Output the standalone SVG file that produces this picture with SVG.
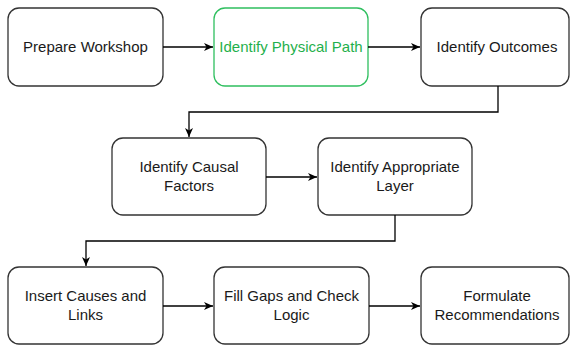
<svg xmlns="http://www.w3.org/2000/svg" width="570" height="347" viewBox="0 0 570 347">
<style>
.box{fill:#ffffff;stroke:#333333;stroke-width:1.3}
.green{fill:#ffffff;stroke:#2fbf5f;stroke-width:1.3}
.t{font-family:"Liberation Sans",Arial,sans-serif;font-size:15px;fill:#1a1a1a;text-anchor:middle}
.tg{font-family:"Liberation Sans",Arial,sans-serif;font-size:15px;fill:#1fb04c;text-anchor:middle}
.c{fill:none;stroke:#000000;stroke-width:1.3}
</style>
<defs>
<marker id="ah" markerWidth="10" markerHeight="10" refX="9" refY="5" orient="auto" markerUnits="userSpaceOnUse">
<path d="M0,1 L9,5 L0,9 L2.5,5 Z" fill="#000000"/>
</marker>
</defs>
<rect width="570" height="347" fill="#ffffff"/>
<g id="n1"><rect class="box" x="8" y="8" width="155" height="78" rx="11"/><text class="t" x="85.5" y="52">Prepare Workshop</text></g>
<g id="n2"><rect class="green" x="214" y="8" width="154" height="78" rx="11"/><text class="tg" x="291" y="52">Identify Physical Path</text></g>
<g id="n3"><rect class="box" x="421" y="8" width="148" height="78" rx="11"/><text class="t" x="497" y="52">Identify Outcomes</text></g>
<g id="n4"><rect class="box" x="112" y="138" width="154" height="77" rx="11"/><text class="t" x="189" y="172">Identify Causal</text><text class="t" x="189" y="191">Factors</text></g>
<g id="n5"><rect class="box" x="318" y="138" width="154" height="77" rx="11"/><text class="t" x="395" y="172">Identify Appropriate</text><text class="t" x="395" y="191">Layer</text></g>
<g id="n6"><rect class="box" x="8" y="267" width="155" height="77" rx="11"/><text class="t" x="85.5" y="301">Insert Causes and</text><text class="t" x="85.5" y="320">Links</text></g>
<g id="n7"><rect class="box" x="214" y="267" width="155" height="77" rx="11"/><text class="t" x="291.5" y="301">Fill Gaps and Check</text><text class="t" x="291.5" y="320">Logic</text></g>
<g id="n8"><rect class="box" x="421" y="267" width="148" height="77" rx="11"/><text class="t" x="497" y="301">Formulate</text><text class="t" x="497" y="320">Recommendations</text></g>
<g id="connectors">
<path class="c" d="M163,47 L213,47" marker-end="url(#ah)"/>
<path class="c" d="M368,47 L420,47" marker-end="url(#ah)"/>
<path class="c" d="M498,86 L498,112 L189,112 L189,137" marker-end="url(#ah)"/>
<path class="c" d="M266,177 L317,177" marker-end="url(#ah)"/>
<path class="c" d="M395,215 L395,241 L86,241 L86,266" marker-end="url(#ah)"/>
<path class="c" d="M163,306 L213,306" marker-end="url(#ah)"/>
<path class="c" d="M369,306 L420,306" marker-end="url(#ah)"/>
</g>
</svg>
